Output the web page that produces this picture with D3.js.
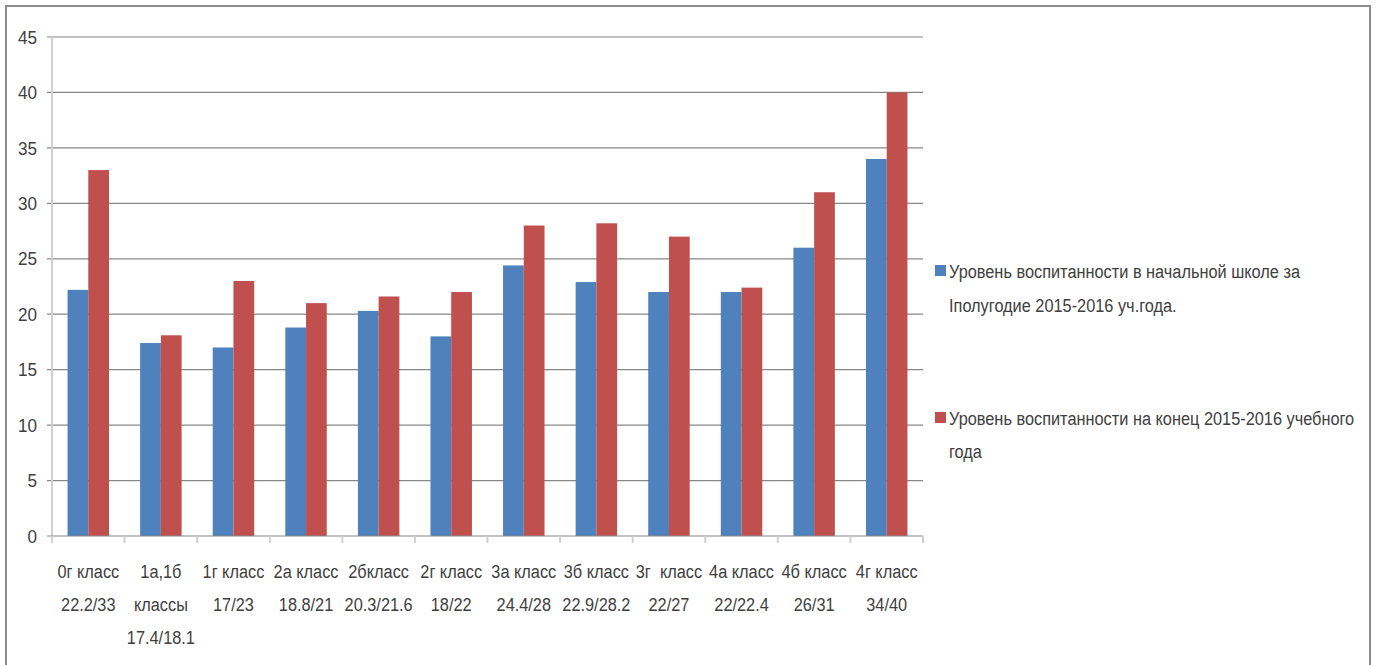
<!DOCTYPE html>
<html lang="ru">
<head>
  <meta charset="utf-8">
  <script src="https://d3js.org/d3.v7.min.js"></script>
  <style>
    body { margin: 0; background: #fff; }
    text { font-family: "Liberation Sans", Arial, sans-serif; fill: #404040; white-space: pre; }
  </style>
</head>
<body>
  <svg width="1378" height="665" id="chart"></svg>
  <script>
    // data
    const classes = [
      ["0г класс", "22.2/33"],
      ["1а,1б", "классы", "17.4/18.1"],
      ["1г класс", "17/23"],
      ["2а класс", "18.8/21"],
      ["2бкласс", "20.3/21.6"],
      ["2г класс", "18/22"],
      ["3а класс", "24.4/28"],
      ["3б класс", "22.9/28.2"],
      ["3г  класс", "22/27"],
      ["4а класс", "22/22.4"],
      ["4б класс", "26/31"],
      ["4г класс", "34/40"]
    ];
    const firstHalf = [22.2, 17.4, 17, 18.8, 20.3, 18, 24.4, 22.9, 22, 22, 26, 34];
    const yearEnd = [33, 18.1, 23, 21, 21.6, 22, 28, 28.2, 27, 22.4, 31, 40];
    const seriesNames = [
      ["Уровень воспитанности в начальной школе за", "Iполугодие 2015-2016 уч.года."],
      ["Уровень воспитанности на конец 2015-2016 учебного", "года"]
    ];
    const yTicks = [0, 5, 10, 15, 20, 25, 30, 35, 40, 45];
    const colors = ["#4f81bd", "#c0504d"];

    let svg = d3.select("#chart");
    let squeeze = 0.86;

    // outer frame
    svg.append("rect")
      .attr("x", 6).attr("y", 6)
      .attr("width", 1364).attr("height", 668)
      .attr("fill", "none")
      .attr("stroke", "#8c8c8c")
      .attr("stroke-width", 2);

    let plot = { left: 52, right: 923, top: 37, bottom: 536 };

    let x = d3.scaleBand()
      .domain(d3.range(classes.length))
      .range([plot.left, plot.right])
      .paddingInner(0.4286)
      .paddingOuter(0.2143);
    // band of the whole category (for tick marks)
    let xCat = d3.scaleBand().domain(d3.range(classes.length)).range([plot.left, plot.right]);

    let y = d3.scaleLinear().domain([0, 45]).range([plot.bottom, plot.top]);

    // gridlines
    svg.append("g").selectAll("line").data(yTicks.filter(d => d > 0)).enter()
      .append("line")
      .attr("x1", plot.left - 5).attr("x2", plot.right)
      .attr("y1", d => y(d)).attr("y2", d => y(d))
      .attr("stroke", "#878787").attr("stroke-width", 1.2);

    // y axis line
    svg.append("line")
      .attr("x1", plot.left).attr("x2", plot.left)
      .attr("y1", plot.top).attr("y2", plot.bottom + 6)
      .attr("stroke", "#d0d0d0").attr("stroke-width", 2);

    // y labels
    svg.append("g").selectAll("text").data(yTicks).enter()
      .append("text")
      .attr("transform", d => "translate(37," + y(d) + ") scale(0.9,1)")
      .attr("dy", "0.35em")
      .attr("text-anchor", "end")
      .attr("font-size", 19)
      .text(d => d);

    // bars
    let groups = svg.append("g").selectAll("g").data(classes).enter()
      .append("g");
    let bw = x.bandwidth() / 2;
    groups.append("rect")
      .attr("x", (d, i) => x(i))
      .attr("y", (d, i) => y(firstHalf[i]))
      .attr("width", bw)
      .attr("height", (d, i) => y(0) - y(firstHalf[i]))
      .attr("fill", colors[0]);
    groups.append("rect")
      .attr("x", (d, i) => x(i) + bw)
      .attr("y", (d, i) => y(yearEnd[i]))
      .attr("width", bw)
      .attr("height", (d, i) => y(0) - y(yearEnd[i]))
      .attr("fill", colors[1]);

    // x axis line and tick marks
    svg.append("line")
      .attr("x1", plot.left - 5).attr("x2", plot.right)
      .attr("y1", plot.bottom).attr("y2", plot.bottom)
      .attr("stroke", "#878787").attr("stroke-width", 1.2);
    svg.append("g").selectAll("line").data(d3.range(classes.length + 1)).enter()
      .append("line")
      .attr("x1", i => i < classes.length ? xCat(i) : plot.right)
      .attr("x2", i => i < classes.length ? xCat(i) : plot.right)
      .attr("y1", plot.bottom).attr("y2", plot.bottom + 7)
      .attr("stroke", "#d0d0d0").attr("stroke-width", 2);

    // category labels
    let labels = svg.append("g").selectAll("text").data(classes).enter()
      .append("text")
      .attr("text-anchor", "middle")
      .attr("font-size", 19)
      .attr("transform", (d, i) => "translate(" + (xCat(i) + xCat.bandwidth() / 2) + ",0) scale(" + squeeze + ",1)");
    labels.selectAll("tspan").data(d => d).enter()
      .append("tspan")
      .attr("x", 0)
      .attr("y", (d, j) => 578 + j * 33)
      .text(d => d);

    // legend
    let legendY = [[271, 305], [418, 451]];
    seriesNames.forEach((lines, k) => {
      svg.append("rect")
        .attr("x", 935).attr("y", legendY[k][0] - 6)
        .attr("width", 11).attr("height", 11)
        .attr("fill", colors[k]);
      lines.forEach((t, j) => {
        svg.append("text")
          .attr("transform", "translate(949," + legendY[k][j] + ") scale(" + squeeze + ",1)")
          .attr("dy", "0.35em")
          .attr("font-size", 19)
          .text(t);
      });
    });
  </script>
</body>
</html>
